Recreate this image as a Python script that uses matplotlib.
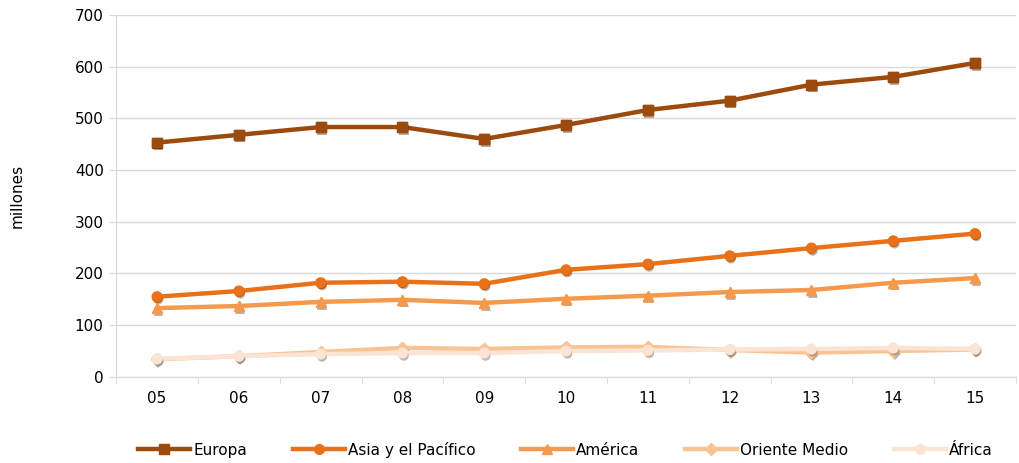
import matplotlib.pyplot as plt
import matplotlib.patheffects as pe
import numpy as np

years = ['05', '06', '07', '08', '09', '10', '11', '12', '13', '14', '15']
europa = [453, 468, 483, 483, 460, 487, 516, 534, 565, 580, 607]
asia = [155, 166, 182, 184, 180, 207, 218, 234, 249, 263, 277]
america = [133, 137, 145, 149, 143, 151, 157, 164, 168, 182, 191]
oriente = [34, 40, 48, 56, 54, 57, 58, 52, 47, 50, 53]
africa = [35, 40, 44, 46, 46, 50, 51, 53, 54, 56, 54]

series = [
    ('Europa', europa, '#9c4a0e', 's'),
    ('Asia y el Pacífico', asia, '#e8711a', 'o'),
    ('América', america, '#f59a4c', '^'),
    ('Oriente Medio', oriente, '#f9c394', 'D'),
    ('África', africa, '#fbe4d4', 'o'),
]

fig = plt.figure(figsize=(10.19, 4.63), dpi=100)
ax = fig.add_axes([0.114, 0.186, 0.883, 0.782])

x = np.arange(len(years))
shadow = [pe.SimplePatchShadow(offset=(1, -2), alpha=0.35), pe.Normal()]
for i, (name, vals, col, mk) in enumerate(series):
    ms = 7 if mk != 'D' else 6
    ax.plot(x, vals, color=col, lw=3.2, marker=mk, ms=ms, label=name,
            zorder=3 + i)
    ax.plot(x, vals, ls='none', marker=mk, ms=ms, color=col,
            path_effects=shadow, zorder=3 + i)

ax.set_xlim(-0.5, len(years) - 0.5)
ax.set_ylim(0, 700)
ax.set_yticks(range(0, 701, 100))
ax.set_xticks(x)
ax.set_xticklabels(years)
ax.set_xticks(np.arange(-0.5, len(years), 1), minor=True)
ax.tick_params(axis='x', which='major', length=0, pad=10, labelsize=11)
ax.tick_params(axis='x', which='minor', length=5, color='#d9d9d9')
ax.tick_params(axis='y', length=5, color='#d9d9d9', labelsize=11, pad=4)
ax.grid(axis='y', color='#d9d9d9', lw=1)
ax.set_axisbelow(True)
for s in ['top', 'right']:
    ax.spines[s].set_visible(False)
for s in ['left', 'bottom']:
    ax.spines[s].set_color('#d9d9d9')

ax.set_ylabel('millones', fontsize=11, labelpad=36)

fig.legend(loc='lower center', ncol=5, frameon=False, fontsize=11,
           bbox_to_anchor=(0.555, -0.018), handlelength=3.4, columnspacing=3.0,
           handletextpad=0.2)

fig.savefig('out.png', dpi=100)
